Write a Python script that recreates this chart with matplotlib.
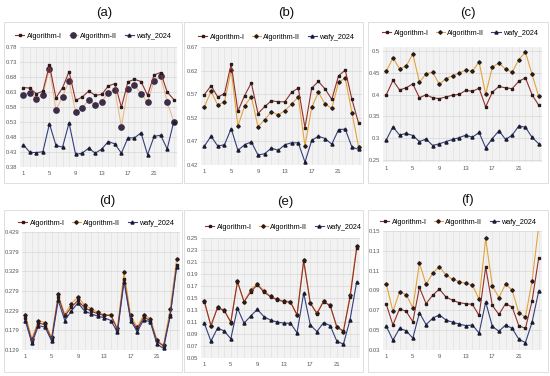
import matplotlib
matplotlib.use('Agg')
import matplotlib.pyplot as plt
from matplotlib.patches import Rectangle

############################################################
# Datos
############################################################

runs = [1, 2, 3, 4, 5, 6, 7, 8, 9, 10, 11, 12,
        13, 14, 15, 16, 17, 18, 19, 20, 21, 22, 23, 24]

xticks = [1, 5, 9, 13, 17, 21]

nombres = ['Algorithm-I', 'Algorithm-II', 'wafy_2024']

# (a)
a_alg1 = [0.645, 0.643, 0.624, 0.633, 0.720, 0.610, 0.644, 0.698, 0.602, 0.613, 0.633, 0.619,
          0.622, 0.650, 0.658, 0.579, 0.664, 0.672, 0.665, 0.619, 0.687, 0.695, 0.630, 0.605]
a_alg2 = [0.620, 0.627, 0.607, 0.621, 0.707, 0.570, 0.615, 0.666, 0.564, 0.577, 0.604, 0.586,
          0.598, 0.628, 0.637, 0.514, 0.640, 0.652, 0.625, 0.596, 0.668, 0.682, 0.597, 0.531]
a_wafy = [0.455, 0.429, 0.428, 0.431, 0.524, 0.452, 0.446, 0.527, 0.422, 0.426, 0.443, 0.426,
          0.440, 0.465, 0.457, 0.426, 0.477, 0.477, 0.494, 0.421, 0.482, 0.486, 0.440, 0.531]

# (b)
b_alg1 = [0.569, 0.588, 0.564, 0.571, 0.634, 0.534, 0.567, 0.594, 0.529, 0.544, 0.556, 0.554,
          0.554, 0.574, 0.583, 0.499, 0.583, 0.597, 0.581, 0.559, 0.609, 0.621, 0.559, 0.508]
b_alg2 = [0.543, 0.576, 0.547, 0.554, 0.621, 0.502, 0.545, 0.565, 0.501, 0.516, 0.533, 0.526,
          0.535, 0.549, 0.564, 0.460, 0.542, 0.574, 0.549, 0.540, 0.595, 0.604, 0.531, 0.458]
b_wafy = [0.460, 0.481, 0.460, 0.463, 0.497, 0.451, 0.463, 0.469, 0.441, 0.444, 0.456, 0.451,
          0.463, 0.467, 0.467, 0.426, 0.472, 0.481, 0.476, 0.464, 0.495, 0.496, 0.458, 0.453]

# (c)
c_alg1 = [0.400, 0.433, 0.411, 0.416, 0.425, 0.393, 0.400, 0.393, 0.391, 0.395, 0.399, 0.401,
          0.410, 0.408, 0.415, 0.372, 0.406, 0.419, 0.416, 0.414, 0.431, 0.439, 0.400, 0.376]
c_alg2 = [0.454, 0.485, 0.460, 0.466, 0.494, 0.429, 0.448, 0.452, 0.424, 0.437, 0.444, 0.450,
          0.457, 0.454, 0.476, 0.401, 0.464, 0.473, 0.459, 0.452, 0.481, 0.498, 0.447, 0.396]
c_wafy = [0.296, 0.326, 0.307, 0.311, 0.306, 0.292, 0.298, 0.283, 0.287, 0.292, 0.297, 0.301,
          0.307, 0.302, 0.313, 0.278, 0.299, 0.317, 0.297, 0.307, 0.328, 0.325, 0.302, 0.287]

# (d)
d_alg1 = [0.211, 0.152, 0.198, 0.193, 0.157, 0.264, 0.215, 0.238, 0.255, 0.236, 0.228, 0.221,
          0.217, 0.217, 0.181, 0.309, 0.208, 0.182, 0.212, 0.204, 0.151, 0.139, 0.217, 0.346]
d_alg2 = [0.219, 0.157, 0.204, 0.198, 0.161, 0.271, 0.219, 0.247, 0.264, 0.243, 0.234, 0.225,
          0.219, 0.219, 0.184, 0.328, 0.217, 0.187, 0.219, 0.208, 0.154, 0.141, 0.232, 0.361]
d_wafy = [0.204, 0.146, 0.191, 0.187, 0.152, 0.255, 0.204, 0.228, 0.249, 0.228, 0.221, 0.215,
          0.211, 0.204, 0.174, 0.303, 0.204, 0.176, 0.206, 0.200, 0.144, 0.133, 0.215, 0.341]

# (e)
e_alg1 = [0.144, 0.104, 0.134, 0.129, 0.110, 0.177, 0.144, 0.160, 0.172, 0.160, 0.152, 0.147,
          0.144, 0.143, 0.122, 0.212, 0.141, 0.124, 0.144, 0.137, 0.102, 0.095, 0.151, 0.233]
e_alg2 = [0.145, 0.103, 0.135, 0.130, 0.109, 0.178, 0.143, 0.164, 0.174, 0.162, 0.153, 0.148,
          0.145, 0.144, 0.121, 0.214, 0.142, 0.125, 0.145, 0.138, 0.101, 0.094, 0.155, 0.236]
e_wafy = [0.108, 0.078, 0.100, 0.095, 0.082, 0.133, 0.108, 0.120, 0.131, 0.119, 0.113, 0.110,
          0.108, 0.108, 0.092, 0.158, 0.105, 0.094, 0.109, 0.104, 0.078, 0.073, 0.114, 0.177]

# (f)
f_alg1 = [0.0760, 0.0552, 0.0716, 0.0689, 0.0586, 0.0931, 0.0767, 0.0852, 0.0914, 0.0835, 0.0801, 0.0777,
          0.0767, 0.0760, 0.0648, 0.1135, 0.0750, 0.0658, 0.0767, 0.0733, 0.0545, 0.0518, 0.0794, 0.1227]
f_alg2 = [0.0965, 0.0689, 0.0886, 0.0859, 0.0726, 0.1176, 0.0961, 0.1074, 0.1142, 0.1057, 0.1013, 0.0989,
          0.0972, 0.0955, 0.0811, 0.1425, 0.0948, 0.0828, 0.0965, 0.0903, 0.0675, 0.0631, 0.0995, 0.1550]
f_wafy = [0.0539, 0.0399, 0.0518, 0.0494, 0.0419, 0.0675, 0.0556, 0.0620, 0.0655, 0.0603, 0.0580, 0.0562,
          0.0545, 0.0552, 0.0470, 0.0784, 0.0539, 0.0488, 0.0552, 0.0518, 0.0409, 0.0375, 0.0580, 0.0893]

# y ticks por panel
a_yticks = [0.38, 0.43, 0.48, 0.53, 0.58, 0.63, 0.68, 0.73, 0.78]
b_yticks = [0.42, 0.47, 0.52, 0.57, 0.62, 0.67]
c_yticks = [0.25, 0.3, 0.35, 0.4, 0.45, 0.5]
d_yticks = [0.129, 0.179, 0.229, 0.279, 0.329, 0.379, 0.429]
e_yticks = [0.05, 0.07, 0.09, 0.11, 0.13, 0.15, 0.17, 0.19, 0.21, 0.23, 0.25]
f_yticks = [0.03, 0.05, 0.07, 0.09, 0.11, 0.13, 0.15]

############################################################
# Estilo
############################################################

plt.rcParams['font.family'] = ['Liberation Sans Narrow', 'Liberation Sans', 'DejaVu Sans']

W, H = 550, 376

C_ALG1 = '#93302c'
C_ALG2 = '#e3a33c'
C_WAFY = '#323f7c'
C_MK = '#2a1c1c'


def px(x0, y0, x1, y1):
    # caja en pixeles (origen arriba-izquierda) -> fraccion de figura
    return [x0 / W, 1 - y1 / H, (x1 - x0) / W, (y1 - y0) / H]


fig = plt.figure(figsize=(W / 100, H / 100), dpi=100)
fig.patch.set_facecolor('white')

# marcos de cada grafica
for (x0, y0, x1, y1) in [(4, 22, 182, 183), (184, 22, 363, 183), (368, 22, 548, 183),
                         (4, 210, 182, 372), (184, 210, 363, 372), (368, 210, 548, 372)]:
    fig.patches.append(Rectangle((x0 / W, 1 - y1 / H), (x1 - x0) / W, (y1 - y0) / H,
                                 transform=fig.transFigure, fill=False,
                                 edgecolor='#d9d9d9', linewidth=0.6))

############################################################
# Paneles
############################################################

paneles = [
    ('(a)', a_alg1, a_alg2, a_wafy, a_yticks, (0.38, 0.78), '{:.2f}',
     (20, 47, 177, 167), (104, 13), (93, 36), True),
    ('(b)', b_alg1, b_alg2, b_wafy, b_yticks, (0.42, 0.67), '{:.2f}',
     (201, 47, 362, 165), (286, 13), (276, 37), False),
    ('(c)', c_alg1, c_alg2, c_wafy, c_yticks, (0.245, 0.51), '{:g}',
     (383, 47, 542, 162), (468, 13), (460, 33), False),
    ('(d)', d_alg1, d_alg2, d_wafy, d_yticks, (0.129, 0.429), '{:.3f}',
     (22, 232, 180, 350), (107, 201), (96, 223), False),
    ('(e)', e_alg1, e_alg2, e_wafy, e_yticks, (0.05, 0.25), '{:.2f}',
     (201, 238, 360, 358), (285, 202), (283, 227), False),
    ('(f)', f_alg1, f_alg2, f_wafy, f_yticks, (0.03, 0.15), '{:.2f}',
     (383, 231, 542, 350), (467, 200), (458, 222), False),
]

for (titulo, s1, s2, s3, yt, ylim, fmt, caja, pos_t, pos_l, circulos) in paneles:

    ax = fig.add_axes(px(*caja))
    ax.set_facecolor('#f2f2f2')

    ax.plot(runs, s1, color=C_ALG1, linewidth=0.8, marker='s', markersize=2.0,
            markerfacecolor=C_MK, markeredgecolor=C_MK, label=nombres[0], zorder=3)

    if circulos:
        ax.plot(runs, s2, color='#eab98a', linewidth=0.8, marker='o', markersize=3.8,
                markerfacecolor='#3b2c48', markeredgecolor='#3b2c48', label=nombres[1], zorder=2)
    else:
        ax.plot(runs, s2, color=C_ALG2, linewidth=0.8, marker='D', markersize=1.8,
                markerfacecolor=C_MK, markeredgecolor=C_MK, label=nombres[1], zorder=2)

    ax.plot(runs, s3, color=C_WAFY, linewidth=0.8, marker='^', markersize=2.2,
            markerfacecolor='#1c1c30', markeredgecolor='#1c1c30', label=nombres[2], zorder=3)

    ax.set_xlim(0.5, 24.5)
    ax.set_ylim(*ylim)
    ax.set_xticks(xticks)
    ax.set_xticks(runs, minor=True)
    ax.set_yticks(yt)
    ax.set_yticklabels([fmt.format(v) for v in yt])

    ax.grid(True, which='minor', axis='x', color='#e2e2e2', linewidth=0.5)
    ax.grid(True, which='major', axis='x', color='#e2e2e2', linewidth=0.5)
    ax.grid(True, which='major', axis='y', color='#d6d6d6', linewidth=0.5)
    ax.set_axisbelow(True)

    for lado in ax.spines.values():
        lado.set_visible(False)

    ax.tick_params(which='both', length=0, labelsize=4.2, labelcolor='#595959', pad=3)
    ax.tick_params(axis='y', pad=2)

    fig.text(pos_t[0] / W, 1 - pos_t[1] / H, titulo, ha='center', va='center',
             fontsize=9.5, color='#111111')

    ax.legend(loc='center', bbox_to_anchor=(pos_l[0] / W, 1 - pos_l[1] / H),
              bbox_transform=fig.transFigure, ncol=3, frameon=False,
              fontsize=5.2, handlelength=1.3, handletextpad=0.3,
              columnspacing=1.0, borderaxespad=0, borderpad=0)

fig.savefig('out.png', dpi=100)
